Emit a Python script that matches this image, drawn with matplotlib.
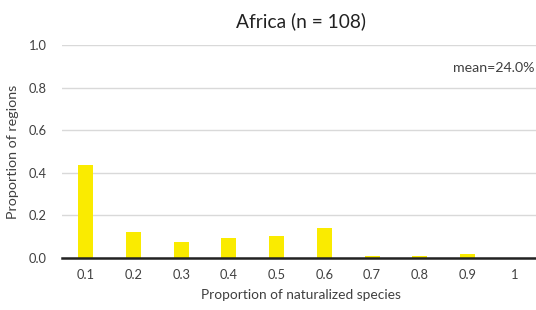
import matplotlib
matplotlib.use("Agg")
import matplotlib.pyplot as plt

categories = ["0.1", "0.2", "0.3", "0.4", "0.5", "0.6", "0.7", "0.8", "0.9", "1"]
values = [0.435, 0.120, 0.074, 0.093, 0.102, 0.139, 0.009, 0.009, 0.019, 0.0]
yticks = [0.0, 0.2, 0.4, 0.6, 0.8, 1.0]

plt.rcParams['font.family'] = ['Lato', 'DejaVu Sans']

fig = plt.figure(figsize=(5.36, 3.10), dpi=100)
ax = fig.add_axes([62/536, 1-258/310, 477/536, 213/310])
x = list(range(len(categories)))
ax.bar(x, values, width=0.315, color="#FAEB00", zorder=3)
ax.set_xlim(-0.5, len(categories)-0.5)
ax.set_ylim(0, 1.0)
ax.set_yticks(yticks)
ax.set_yticklabels([f"{v:.1f}" for v in yticks], fontsize=9.3, color="#404040")
ax.set_xticks(x)
ax.set_xticklabels(categories, fontsize=9.3, color="#404040")
ax.tick_params(axis='x', length=0, pad=8)
ax.tick_params(axis='y', length=0, pad=11)
ax.grid(axis='y', color="#d9d9d9", linewidth=1, zorder=0)
for s in ["top", "right", "left"]:
    ax.spines[s].set_visible(False)
ax.spines["bottom"].set_color("#222222")
ax.spines["bottom"].set_linewidth(1.8)
ax.spines["bottom"].set_zorder(4)
ax.set_title("Africa (n = 108)", fontsize=13.8, color="#222222", pad=13)
ax.set_xlabel("Proportion of naturalized species", fontsize=9.9, color="#404040", labelpad=6)
ax.set_ylabel("Proportion of regions", fontsize=10.3, color="#404040", labelpad=7)
ax.text(0.99, 0.89, "mean=24.0%", transform=ax.transAxes, ha="right", va="center",
        fontsize=10.2, color="#404040")
fig.savefig("out.png", dpi=100)
